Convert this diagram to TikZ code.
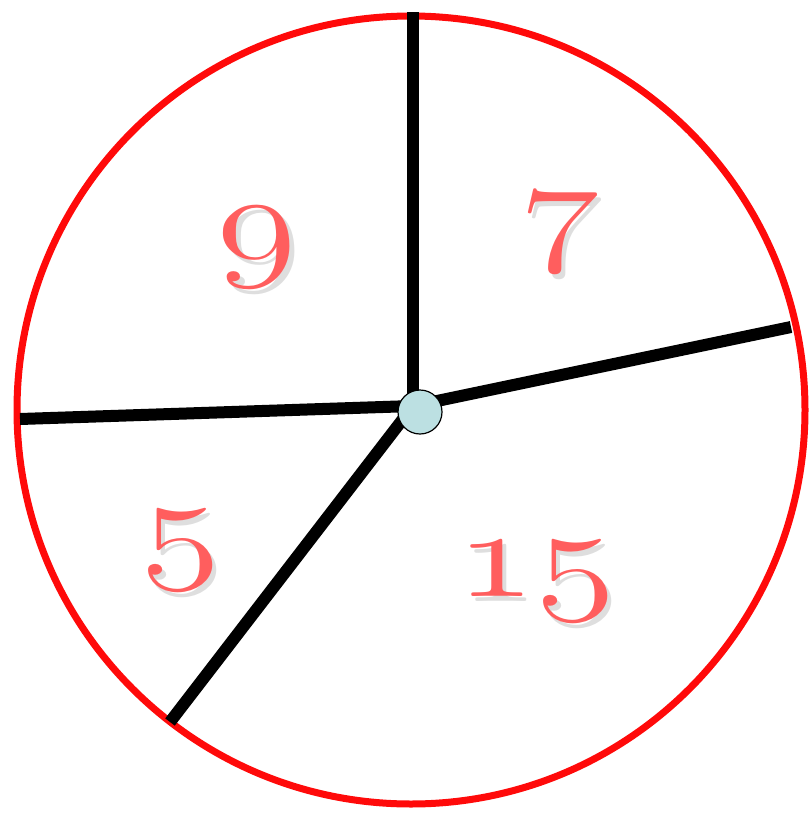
\documentclass[tikz,border=0pt]{standalone}
\usepackage{tikz}
\usepackage{graphicx}
\usepackage{xcolor}
\usetikzlibrary{positioning,calc}
\definecolor{rimred}{RGB}{255,10,10}
\definecolor{numred}{RGB}{255,94,94}
\definecolor{hubblue}{RGB}{188,224,226}
\newcommand{\bignum}[1]{\scalebox{6.6}[5.1]{\fontsize{25}{30}\usefont{OML}{lmm}{m}{it}#1}}

\begin{document}
\begin{tikzpicture}[
  x=1pt, y=-1pt,
  rim/.style={draw=rimred, line width=7pt},
  spoke/.style={draw=black, line width=12pt},
  hub/.style={draw=black, line width=1.2pt, circle, fill=hubblue, minimum size=44pt, inner sep=0pt},
  num/.style={text=numred, inner sep=0pt},
  shade/.style={text=black, opacity=0.13, inner sep=0pt}
]
\useasboundingbox (0,0) rectangle (808,816);

\coordinate (o) at (413,406);
\coordinate (top) at (413,12);
\coordinate (east) at (791,327);
\coordinate (west) at (20,419);
\coordinate (sw) at (170,722);

\draw[rim] (411,410) circle (394);

\draw[spoke] (o) -- (top);
\draw[spoke] (o) -- (east);
\draw[spoke] (o) -- (west);
\draw[spoke] (o) -- (sw);

\node[hub] (hub) at (420,412) {};

% shadows
\node[shade] at (262,253) {\bignum{9}};
\node[shade] at (564,238) {\bignum{7}};
\node[shade] at (185,556) {\bignum{5}};
\node[shade] at (540,587) {\bignum{15}};

\node[num] (nine) at (257,248) {\bignum{9}};
\node[num] (seven) at (560,233) {\bignum{7}};
\node[num] (five) at (181,551) {\bignum{5}};
\node[num] (fifteen) at (536,582) {\bignum{15}};

\end{tikzpicture}
\end{document}
